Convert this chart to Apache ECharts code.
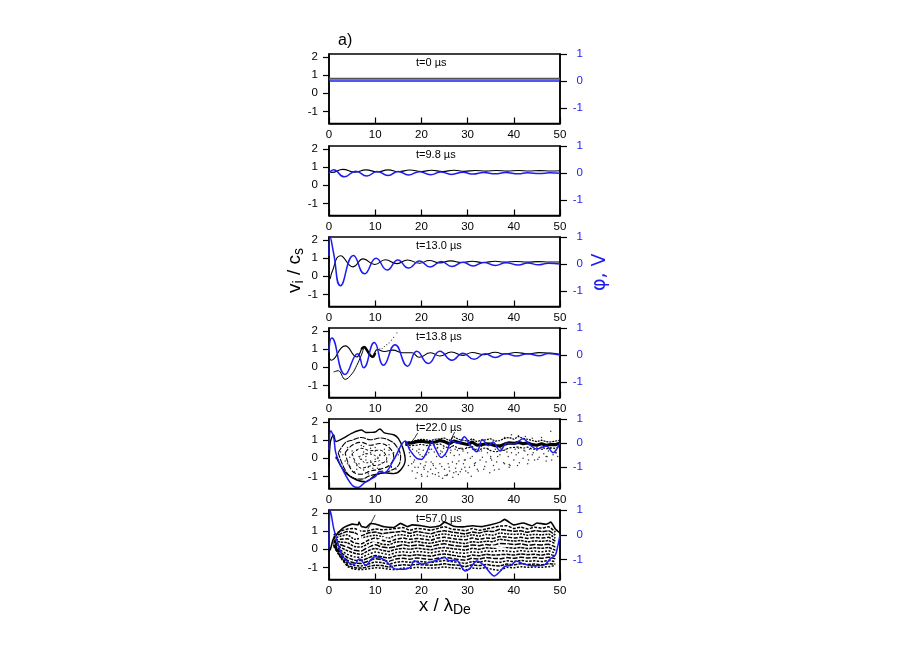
<!DOCTYPE html>
<html><head><meta charset="utf-8">
<style>html,body{margin:0;padding:0;background:#fff}#c{width:913px;height:646px}</style>
<script src="https://cdn.jsdelivr.net/npm/echarts@6/dist/echarts.min.js"></script>
</head><body><div id="c"></div>
<script>
const timeLabels=['t=0 µs','t=9.8 µs','t=13.0 µs','t=13.8 µs','t=22.0 µs','t=57.0 µs'];
const xTicks=[0,10,20,30,40,50];
const leftTicks=[-1,0,1,2];
const rightTicks=[-1,0,1];
const rightMins=[-1.57,-1.57,-1.57,-1.57,-1.89,-1.8];

const p1BlackX=[0,50], p1BlackY=[0.8,0.8];
const p1BlueX=[0,50], p1BlueY=[0,0];

const p2BlackX=[0,0.6,3,5.6,8,10.5,12.8,15,17.5,20,22.2,24.6,27,29.3,31.6,34,36.2,38.6,41,43.2,45.6,48,50];
const p2BlackY=[0.78,0.71,0.88,0.72,0.85,0.74,0.85,0.75,0.84,0.76,0.83,0.76,0.83,0.77,0.82,0.78,0.82,0.78,0.82,0.79,0.81,0.79,0.8];
const p2BlueX=[0,1,3.3,5.8,8.2,10.4,12.8,15,17.2,19.5,22,24.2,26.5,29,31.2,33.5,36,38.2,41,43,45.5,47.8,50];
const p2BlueY=[0,0.12,-0.14,0.07,-0.11,0.06,-0.09,0.06,-0.07,0.05,-0.06,0.04,-0.05,0.03,-0.04,0.02,-0.03,0.02,-0.03,0.01,-0.02,0.01,-0.01];

const p3BlackX=[0,0.2,0.6,2.5,5.2,7.4,9.9,12.2,14.7,17,19.6,21.7,24,26.3,28.8,31,33.3,36,38,40.5,43,45.3,47.6,50];
const p3BlackY=[0.1,-0.15,0.2,1.13,0.52,0.96,0.65,0.91,0.7,0.9,0.72,0.87,0.74,0.85,0.76,0.83,0.76,0.83,0.78,0.82,0.78,0.81,0.79,0.79];
const p3BlueX=[0,0.25,1,2.5,5.3,7.7,10.2,12.6,14.9,17.2,19.6,21.9,24.3,26.6,29,31.2,33.5,36,38.3,41,43,45.3,47.5,50];
const p3BlueY=[0.3,1,0.4,-0.8,0.32,-0.36,0.21,-0.22,0.15,-0.15,0.11,-0.11,0.09,-0.09,0.07,-0.07,0.06,-0.05,0.05,-0.04,0.04,-0.03,0.03,0];

const p4BlackX=[0,0.5,3.5,6,7.5,9.3,10.5,12,13.8,16,18,19.5,22,24,26.5,29,31,33.5,36,38,40.5,43,45.5,48,50];
const p4BlackY=[0.76,0.39,1.18,0.57,1.1,0.57,0.98,0.87,0.95,0.8,0.8,0.55,0.8,0.62,0.84,0.66,0.82,0.7,0.83,0.73,0.82,0.74,0.81,0.78,0.72];
const p4BlackThickX=[7,7.6,8.2,8.8,9.4,10];
const p4BlackThickY=[1.0,1.12,0.95,0.7,0.58,0.8];
const p4CurlX=[1,2,3.5,5,6,7,7.5];
const p4CurlY=[-0.26,-0.19,-0.67,-0.35,0.1,0.67,1.05];
const p4DotsX=[10.5,11,11.5,12,12.5,13,13.5,14,14.7];
const p4DotsY=[1.0,1.02,1.05,1.15,1.25,1.35,1.5,1.65,1.9];
const p4BlueX=[0,0.6,3.5,6.2,7.5,9.8,11.8,14.3,17,19,21.5,24,26.6,29,31.4,33.8,36,38.2,40.6,43,45.5,47.5,50];
const p4BlueY=[0.1,0.63,-0.72,0.05,-0.47,0.46,-0.38,0.38,-0.41,0.14,-0.31,0.14,-0.19,0.07,-0.16,0.05,-0.09,0.05,-0.04,0.05,-0.03,0.06,0];

const p5OuterX=[0,0.3,1,1.5,3,5,7,8,9,10,11,12,14,15,16,16.5,15.5,14,12,10,8,6,4,2.5,1.5];
const p5OuterY=[-0.5,0.9,1.3,0.93,1.1,1.39,1.56,1.42,1.43,1.45,1.62,1.4,1.3,1.1,0.55,-0.1,-0.65,-0.85,-0.8,-0.93,-1.3,-1.2,-0.9,-0.4,0.1];
const p5LoopAX=[2,3.5,5,7,9,11,13,14.5,15.5,15,13,11,9,7,5,3.5,2];
const p5LoopAY=[0.3,0.85,1.0,1.15,1.02,1.12,1.0,0.7,0.1,-0.4,-0.72,-0.85,-0.95,-1.15,-1.05,-0.65,0.3];
const p5LoopBX=[3.5,5,7,9,11,13,14,13,11,9,7,5,3.5];
const p5LoopBY=[0.3,0.72,0.88,0.72,0.82,0.6,0.1,-0.4,-0.6,-0.7,-0.88,-0.7,0.3];
const p5LoopCX=[5,7,9,11,12.5,11,9,7,5];
const p5LoopCY=[0.25,0.55,0.42,0.45,0.0,-0.35,-0.42,-0.55,0.25];
const p5LoopDX=[6.5,8,10,11,9.5,8,6.5];
const p5LoopDY=[0.05,0.25,0.15,-0.1,-0.2,-0.25,0.05];
const p5BandX=[16.5,18,19,20,21,22,23,24,25,26,27,28,29,30,31,32,33,34,35,36,37,38,39,40,41,42,43,44,45,46,47,48,49,50];
const p5BandY=[0.82,0.85,0.92,0.95,0.9,0.88,0.9,0.98,0.92,0.8,0.95,0.88,0.82,0.76,0.9,0.72,0.75,0.8,0.78,0.7,0.68,0.78,0.85,0.82,0.88,0.8,0.85,0.75,0.72,0.8,0.72,0.76,0.75,0.85];
const p5FuzzUpY=[0.9,0.92,1.0,1.05,1.02,0.98,1.05,1.08,1.12,0.98,1.2,1.05,1.0,0.95,1.08,0.92,1.0,1.02,1.08,0.95,0.98,1.1,1.15,1.05,1.2,1.1,1.05,0.98,0.92,1.0,0.92,0.9,0.95,1.0];
const p5FuzzLowY=[0.72,0.7,0.72,0.78,0.7,0.72,0.75,0.8,0.65,0.55,0.7,0.55,0.5,0.58,0.65,0.4,0.52,0.58,0.42,0.35,0.4,0.45,0.58,0.6,0.62,0.55,0.62,0.5,0.5,0.62,0.52,0.58,0.55,0.68];
const p5StrandX=[18,18.6,19.2,26.4,26.8,27.2];
const p5StrandY=[0.95,1.15,1.4,0.95,1.25,1.45];
const p5DotsX=[17.2,17.6,18,18.3,18.8,19,19.3,19.7,20,20.2,20.6,21,21.3,21.6,22,22.2,22.6,23,23.3,23.7,24,24.2,24.6,25,25.2,25.6,26,26.3,26.7,27,27.3,27.6,28,28.2,28.7,29,29.3,29.6,30,30.4,30.8,31,31.5,32,32.3,32.7,33,33.5,34,34.3,34.8,35,35.6,36,36.3,36.8,37,37.5,38,38.3,38.8,39,39.5,40,40.3,40.8,41,41.5,42,42.4,43,43.4,44,44.5,45,45.5,46,46.5,47,47.5,48,48.5,49,49.5,
 17.5,18.5,19.5,20.5,21.5,22.5,23.5,24.5,25.5,26.5,27.5,28.5,29.5,30.5,31.5,33,35,37,39,41,43,45,47,49,38,39.5,41,42.5,44,46,48,
 1.5,3,4,5,6,6.5,7.5,8,8.5,9,9.5,10,10.5,11,12,12.5,13,13.5,14,5.5,7,8,9,10,11,12,6,7.5,9.5,11.5,13,4.5];
const p5DotsY=[-0.4,0.1,-0.7,-0.2,-1.1,0.4,-0.5,0.2,-0.9,0.1,-0.6,-0.2,-1.0,0.3,-0.6,0.5,-0.4,-0.9,0.1,-0.8,-0.3,0.4,-1.1,-0.6,0.2,-0.9,-0.5,0.3,-0.2,-0.8,0.5,-0.3,-0.9,0.2,-0.6,0.4,-0.1,-0.7,0.3,-0.5,-1.0,0.1,-0.4,0.5,-0.7,-0.1,0.4,-0.6,-0.2,0.3,-0.8,0.1,-0.4,0.5,-0.2,-0.6,0.2,0.45,-0.3,0.5,0.1,-0.5,0.3,-0.1,0.5,-0.4,0.3,0.6,0.0,0.4,-0.3,0.5,0.2,-0.1,0.45,0.05,0.5,0.25,-0.15,0.4,0.55,0.2,0.45,0.1,
 0.6,-0.1,0.5,-0.5,0.55,-0.3,0.6,0.35,-0.95,0.65,-0.75,0.55,-0.1,0.6,-0.3,0.65,0.0,0.6,-0.35,0.55,0.2,0.6,0.1,0.3,1.15,1.3,1.25,1.2,1.1,1.15,1.5,
 0.0,0.2,-0.3,0.4,-0.6,0.1,0.65,-0.1,-0.5,0.3,-0.3,0.6,0.0,-0.6,0.3,-0.15,0.45,-0.5,0.0,-0.2,-0.05,0.1,-0.15,-0.05,0.2,0.15,-0.4,0.35,-0.55,-0.25,0.2,0.05];
const p5MoreDotsX=[17.4,17.9,18.1,18.6,19.1,19.4,19.8,20.1,20.4,20.8,21.1,21.4,21.8,22.1,22.4,22.8,23.1,23.4,23.8,24.1,24.4,24.8,25.1,25.4,25.8,26.1,26.4,26.8,27.1,27.4,27.8,28.1,28.4,28.8,29.1,29.4,29.8,30.1,30.6,31.1,31.7,32.1,32.5,33.2,33.7,34.5,35.2,35.8,36.5,37.2,37.8,38.5,39.2,40.5,41.2,42.2,43.2,44.2,45.2,46.2,47.2,48.2,49.2,
 2,2.5,3.5,4,4.5,5,5.5,6,6.5,7,7.5,8,8.5,9,9.5,10,10.5,11,11.5,12,12.5,13,13.5,14,14.5,15];
const p5MoreDotsY=[0.3,-0.3,0.5,-0.5,-0.8,0.3,-0.3,-1.0,0.45,-0.4,0.2,-0.75,0.5,-0.2,-0.85,0.35,-0.55,0.55,-1.0,0.25,-0.45,0.55,-0.95,0.1,-0.3,-0.7,0.45,-1.05,0.15,-0.55,0.45,-0.15,-0.75,0.55,-0.3,-0.5,0.6,-0.8,0.0,0.5,-0.25,-0.6,0.4,0.05,-0.45,0.5,-0.1,-0.65,0.1,0.55,-0.25,0.35,-0.4,0.2,-0.25,0.45,-0.1,0.3,-0.05,0.5,0.1,-0.1,0.3,
 -0.1,0.35,-0.15,0.6,-0.45,0.2,-0.75,0.45,-0.3,0.7,-0.65,0.25,-0.85,0.55,-0.35,0.4,-0.55,0.15,-0.7,0.5,-0.2,0.75,-0.45,0.3,-0.6,0.2];
const p5BlueX=[0,0.4,1,1.5,3,5,6.3,8,10,11,12,14,16.5,17.5,19,20,21,22.3,23,24.3,25.5,26.5,28,29.3,30.5,32,33.2,34.5,35.5,37,38.5,40,42,43.5,45,47,48.5,50];
const p5BlueY=[-0.29,0.51,0.26,-0.43,-1.12,-1.75,-1.85,-1.6,-1.4,-1.17,-1.23,-0.7,0.08,-0.29,-0.64,-0.68,-0.43,0.04,-0.22,-0.6,-0.36,0.1,-0.01,0.26,-0.08,-0.36,0.15,-0.11,0.04,-0.32,-0.01,-0.04,0.18,-0.08,-0.25,-0.12,-0.4,0.01];

const p6UpperX=[0,0.3,1,3,5,6.3,6.5,7,8,9,10,12,14,15.5,17,18,20,22,24,25,27,29,31,33,35,37,38,40,42,44,45,47,48,49,50];
const p6UpperY=[-0.1,0,0.6,1.17,1.39,1.35,1.5,1.27,1.2,1.42,1.4,1.24,1.2,1.43,1.25,1.35,1.3,1.22,1.3,1.5,1.27,1.24,1.3,1.25,1.35,1.5,1.65,1.35,1.45,1.3,1.45,1.38,1.5,1.12,0.9];
const p6StrandX=[8.4,9,9.6,10];
const p6StrandY=[1.1,1.4,1.7,1.9];
const p6GapAX=[6.3,6.6,7.1], p6GapAY=[1.15,0.75,0.4];
const p6GapBX=[8,10,12.5], p6GapBY=[0.1,0.42,0.72];
const p6GapCX=[35,37,39], p6GapCY=[0.18,0.1,0.22];
const cloudX=[1,2.5,4,5.5,7,8.5,10,11.5,13,14.5,16,17.5,19,20.5,22,23.5,25,26.5,28,29.5,31,32.5,34,35.5,37,38.5,40,41.5,43,44.5,46,47.5,49];
const cloudRow1=[0.8,1.0,1.12,1.15,1.0,1.02,1.12,1.08,1.1,1.15,1.2,1.05,1.15,1.12,1.05,1.15,1.25,1.12,1.08,1.02,1.15,1.05,1.12,1.2,1.28,1.3,1.15,1.22,1.12,1.22,1.16,1.25,0.95];
const cloudRow2=[0.7,0.85,0.98,0.92,0.75,0.9,0.95,0.86,0.92,0.95,1.0,0.88,0.98,0.92,0.86,0.97,1.02,0.96,0.9,0.85,0.95,0.9,1.0,0.98,1.1,1.05,1.0,1.02,0.94,1.03,0.98,1.02,0.78];
const cloudRow3=[0.6,0.72,0.8,0.55,0.62,0.72,0.78,0.7,0.62,0.78,0.8,0.72,0.8,0.74,0.68,0.8,0.85,0.78,0.72,0.7,0.8,0.72,0.82,0.78,0.9,0.85,0.82,0.85,0.78,0.82,0.8,0.84,0.62];
const cloudRow4=[0.5,0.55,0.58,0.35,0.3,0.5,0.62,0.5,0.42,0.55,0.62,0.55,0.6,0.55,0.5,0.62,0.66,0.6,0.55,0.52,0.62,0.55,0.62,0.6,0.7,0.68,0.62,0.66,0.6,0.65,0.62,0.66,0.45];
const cloudRow5=[0.45,0.4,0.36,0.15,0.12,0.32,0.42,0.28,0.25,0.4,0.42,0.36,0.44,0.36,0.33,0.42,0.48,0.42,0.36,0.32,0.42,0.38,0.45,0.42,0.55,0.5,0.45,0.48,0.42,0.46,0.44,0.48,0.3];
const cloudRow6=[0.4,0.25,0.12,-0.05,-0.1,0.12,0.25,0.12,0.08,0.15,0.25,0.18,0.24,0.2,0.15,0.25,0.3,0.22,0.18,0.15,0.24,0.2,0.26,0.22,0.32,0.3,0.26,0.3,0.22,0.26,0.24,0.28,0.12];
const cloudRow7=[0.35,0.1,-0.08,-0.22,-0.28,-0.08,0.05,-0.05,-0.12,0.0,0.05,0.0,0.06,0.02,-0.03,0.06,0.1,0.04,0.0,-0.05,0.05,0.0,0.08,0.05,0.12,0.1,0.06,0.1,0.04,0.08,0.05,0.1,-0.06];
const cloudRow8=[0.3,-0.05,-0.28,-0.42,-0.45,-0.28,-0.15,-0.22,-0.3,-0.18,-0.14,-0.18,-0.12,-0.15,-0.2,-0.12,-0.08,-0.14,-0.2,-0.22,-0.14,-0.18,-0.1,-0.12,-0.08,-0.1,-0.14,-0.08,-0.12,-0.1,-0.14,-0.08,-0.22];
const cloudRow9=[0.28,-0.15,-0.46,-0.6,-0.62,-0.48,-0.34,-0.42,-0.48,-0.36,-0.32,-0.36,-0.3,-0.34,-0.38,-0.3,-0.26,-0.32,-0.38,-0.42,-0.32,-0.36,-0.28,-0.32,-0.3,-0.28,-0.32,-0.26,-0.3,-0.28,-0.32,-0.26,-0.38];
const cloudRow10=[0.25,-0.25,-0.62,-0.76,-0.78,-0.66,-0.52,-0.58,-0.66,-0.54,-0.5,-0.55,-0.48,-0.52,-0.56,-0.5,-0.44,-0.5,-0.56,-0.6,-0.5,-0.54,-0.46,-0.5,-0.52,-0.46,-0.5,-0.44,-0.48,-0.46,-0.5,-0.44,-0.52];
const cloudRow11=[0.22,-0.35,-0.76,-0.9,-0.92,-0.82,-0.7,-0.74,-0.82,-0.72,-0.68,-0.72,-0.66,-0.7,-0.72,-0.68,-0.62,-0.68,-0.72,-0.78,-0.68,-0.72,-0.64,-0.7,-0.72,-0.64,-0.68,-0.62,-0.66,-0.64,-0.68,-0.62,-0.68];
const cloudRow12=[0.2,-0.42,-0.88,-1.02,-1.04,-0.96,-0.88,-0.9,-0.98,-0.9,-0.86,-0.88,-0.84,-0.86,-0.88,-0.86,-0.8,-0.86,-0.88,-0.96,-0.86,-0.9,-0.84,-0.9,-0.92,-0.82,-0.86,-0.8,-0.84,-0.82,-0.86,-0.8,-0.82];
const cloudRow13=[0.18,-0.45,-0.94,-1.1,-1.12,-1.08,-1.02,-1.04,-1.1,-1.12,-1.04,-1.05,-1.0,-1.02,-1.04,-1.02,-0.98,-1.02,-1.05,-1.14,-1.04,-1.06,-1.02,-1.12,-1.16,-1.0,-1.02,-0.96,-1.0,-0.98,-1.0,-0.96,-0.9];
const p6BlueX=[0,0.2,0.5,1,2,3,4.5,5.5,6.5,7,8,9,10,12,14,15.5,17.5,18.5,20,22,23.5,25,26,27.5,29.5,30.5,32,33.5,35.8,37,38,39.5,40.5,42,44,46.5,48,49,49.5,50];
const p6BlueY=[-0.54,1,0.8,0.27,-0.4,-0.88,-1.15,-1.19,-0.97,-1.02,-1.24,-1.02,-0.88,-1.01,-1.35,-1.39,-1.32,-1.04,-1.18,-1.1,-1.01,-0.91,-1.04,-1.01,-1.46,-1.35,-1.05,-1.22,-1.66,-1.48,-1.28,-1.22,-1.05,-1.17,-1.25,-1.22,-0.95,-0.81,-0.47,0];

const zip=(x,y)=>x.map((v,i)=>[v,y[i]]);
const BLUE='#1c1cf0', BLACK='#000';
const tops=[54,146,237,328,419,510];
const H=69.5, L=329, W=231, LEFT_MIN=-1.67, LEFT_MAX=2.17;
const cloudDash=[[3,1.4],[5,1],[2,1.2],[4,1.6],[2.5,1],[6,1.5],[3,1],[2,1.6],[4,1],[5,1.6],[2.5,1.3],[3.5,1],[2,1.5]];

const line=(i,x,y,opt)=>Object.assign({type:'line',xAxisIndex:i,yAxisIndex:2*i,data:zip(x,y),showSymbol:false,symbol:'none',
  lineStyle:{color:BLACK,width:1.1},silent:true},opt||{});
const black=(i,x,y,w,smooth,extra)=>line(i,x,y,Object.assign({smooth:smooth===undefined?0.5:smooth,lineStyle:Object.assign({color:BLACK,width:w||1.1},extra||{})}));
const blue=(i,x,y,s)=>line(i,x,y,{yAxisIndex:2*i+1,smooth:s,z:5,lineStyle:{color:BLUE,width:1.5}});
const dots=(i,x,y,s)=>({type:'scatter',xAxisIndex:i,yAxisIndex:2*i,data:zip(x,y),symbolSize:s||1.3,itemStyle:{color:BLACK},silent:true});

const series=[
 black(0,p1BlackX,p1BlackY,2,0,{color:'#555'}), blue(0,p1BlueX,p1BlueY,0),
 black(1,p2BlackX,p2BlackY,1.1), blue(1,p2BlueX,p2BlueY,0.5),
 black(2,p3BlackX,p3BlackY,1.1), blue(2,p3BlueX,p3BlueY,0.5),
 black(3,p4BlackX,p4BlackY,1.1), black(3,p4BlackThickX,p4BlackThickY,2.4), black(3,p4CurlX,p4CurlY,1,0.4), dots(3,p4DotsX,p4DotsY,1.1), blue(3,p4BlueX,p4BlueY,0.5),
 black(4,p5OuterX,p5OuterY,1.4,0.3), black(4,p5LoopAX,p5LoopAY,1.1,0.4,{type:[6,1]}), black(4,p5LoopBX,p5LoopBY,1.1,0.4,{type:[5,2]}),
 black(4,p5LoopCX,p5LoopCY,1,0.4,{type:[3,2]}), black(4,p5LoopDX,p5LoopDY,0.9,0.4,{type:[2,2]}),
 black(4,p5BandX,p5FuzzUpY,1.2,0,{type:[2,1]}), black(4,p5BandX,p5FuzzLowY,1.2,0,{type:[2,1.5]}),
 black(4,p5BandX,p5BandY,3.2,0), dots(4,p5DotsX,p5DotsY,1.5), dots(4,p5MoreDotsX,p5MoreDotsY,1.5), black(4,p5StrandX.slice(0,3),p5StrandY.slice(0,3),0.8,0), black(4,p5StrandX.slice(3),p5StrandY.slice(3),0.8,0), blue(4,p5BlueX,p5BlueY,0.35),
 ...[cloudRow1,cloudRow2,cloudRow3,cloudRow4,cloudRow5,cloudRow6,cloudRow7,cloudRow8,cloudRow9,cloudRow10,cloudRow11,cloudRow12,cloudRow13].map((r,k)=>black(5,cloudX,r,1.5,0.15,{type:cloudDash[k],dashOffset:k*1.7})),
 black(5,p6GapAX,p6GapAY,2.6,0,{color:'#fff'}), black(5,p6GapBX,p6GapBY,1.6,0,{color:'#fff'}), black(5,p6GapCX,p6GapCY,2,0,{color:'#fff'}),
 black(5,p6UpperX,p6UpperY,1.6,0.15), black(5,p6StrandX,p6StrandY,0.8,0), blue(5,p6BlueX,p6BlueY,0.3)
];

const grid=[],xAxis=[],yAxis=[],graphic=[];
tops.forEach((t,i)=>{
  grid.push({left:L,top:t,width:W,height:H,show:true,borderColor:'#000',borderWidth:1.5,backgroundColor:'transparent'});
  xAxis.push({gridIndex:i,type:'value',min:0,max:50,interval:10,
    axisLine:{onZero:false,lineStyle:{color:'#000',width:1.5}},
    axisTick:{inside:true,length:6,lineStyle:{color:'#000',width:1.2},customValues:xTicks},
    axisLabel:{color:'#000',fontFamily:'Liberation Sans',fontSize:11.5,margin:5,customValues:xTicks,showMinLabel:true,showMaxLabel:true},
    splitLine:{show:false}});
  yAxis.push({gridIndex:i,type:'value',position:'left',min:LEFT_MIN,max:LEFT_MAX,
    axisLine:{show:true,onZero:false,lineStyle:{color:'#000',width:1.5}},
    axisTick:{show:true,length:6,lineStyle:{color:'#000',width:1.2},customValues:leftTicks},
    axisLabel:{color:'#000',fontFamily:'Liberation Sans',fontSize:11.5,margin:11,customValues:leftTicks},
    splitLine:{show:false}});
  yAxis.push({gridIndex:i,type:'value',position:'right',min:rightMins[i],max:1,
    axisLine:{show:true,onZero:false,lineStyle:{color:'#000',width:1.5}},
    axisTick:{show:true,length:7,lineStyle:{color:'#000',width:1.2},customValues:rightTicks},
    axisLabel:{color:BLUE,fontFamily:'Liberation Sans',fontSize:11.5,margin:23,align:'right',customValues:rightTicks},
    splitLine:{show:false}});
  graphic.push({type:'text',left:416,top:t+3,z:20,style:{text:timeLabels[i],fontFamily:'Liberation Sans',fontSize:11,fill:'#000'}});
});
graphic.push({type:'text',left:338,top:33,style:{text:'a)',fontFamily:'Liberation Sans',fontSize:16,fill:'#000'}});
graphic.push({type:'text',x:284,y:293,rotation:Math.PI/2,style:{text:'{m|v}{s|i}{m| / c}{s|s}',rich:{m:{fontFamily:'Liberation Sans',fontSize:19,fill:'#000'},s:{fontFamily:'Liberation Sans',fontSize:14,fill:'#000',padding:[8,0,0,0]}}}});
graphic.push({type:'text',x:591,y:291,rotation:Math.PI/2,style:{text:'φ, V',fontFamily:'DejaVu Sans',fontSize:19,fill:BLUE}});
graphic.push({type:'text',left:419,top:596,style:{text:'{m|x / λ}{s|De}',rich:{m:{fontFamily:'Liberation Sans',fontSize:18.5,fill:'#000'},s:{fontFamily:'Liberation Sans',fontSize:14,fill:'#000',padding:[10,0,0,0]}}}});

const chart=echarts.init(document.getElementById('c'),null,{renderer:'canvas'});
chart.setOption({animation:false,backgroundColor:'#fff',grid,xAxis,yAxis,series,graphic});
</script></body></html>
